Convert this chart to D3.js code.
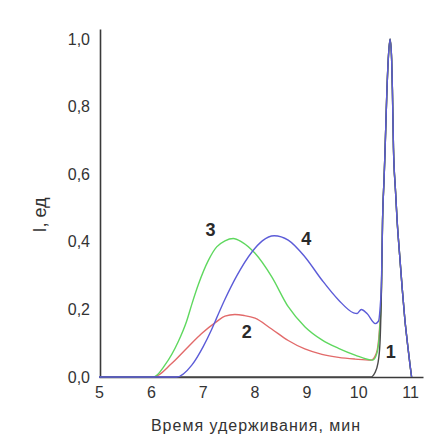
<!DOCTYPE html>
<html>
<head>
<meta charset="utf-8">
<script src="https://cdn.jsdelivr.net/npm/d3@7"></script>
<style>
  html, body { margin: 0; padding: 0; background: #fff; }
  svg { display: block; font-family: "Liberation Sans", Arial, sans-serif; }
</style>
</head>
<body>
<svg id="chart" width="439" height="439"></svg>
<script>
// Chromatograms: relative intensity vs retention time (min)
const xTicks = [5, 6, 7, 8, 9, 10, 11];
const yTicks = [0, 0.2, 0.4, 0.6, 0.8, 1.0];

// Shared main peak near 10.6 min
const peakTime  = [10.47, 10.50, 10.52, 10.55, 10.58, 10.615, 10.645, 10.66, 10.68, 10.72, 10.75, 10.80, 10.85, 10.90, 10.95, 11.00, 11.03];
const peakValue = [0.465, 0.59, 0.68, 0.83, 0.94, 1.0, 0.94, 0.85, 0.68, 0.55, 0.465, 0.36, 0.26, 0.17, 0.10, 0.035, 0];

// Curve 1
const time1  = [5, 10.24, 10.32, 10.38, 10.42, 10.45];
const value1 = [0, 0, 0.012, 0.04, 0.10, 0.27];

// Curve 2
const time2  = [5, 6.05, 6.40, 6.66, 6.98, 7.27, 7.43, 7.62, 7.80, 8.01, 8.33, 8.65, 8.97, 9.30, 9.62, 9.94, 10.25, 10.35, 10.41, 10.45];
const value2 = [0, 0, 0.04, 0.08, 0.129, 0.164, 0.18, 0.185, 0.182, 0.174, 0.142, 0.108, 0.083, 0.067, 0.058, 0.053, 0.05, 0.07, 0.14, 0.27];

// Curve 3
const time3  = [5, 6.05, 6.27, 6.53, 6.69, 6.79, 6.92, 7.11, 7.27, 7.43, 7.59, 7.75, 8.01, 8.33, 8.65, 8.97, 9.30, 9.62, 9.94, 10.28, 10.36, 10.41, 10.45];
const value3 = [0, 0, 0.035, 0.105, 0.165, 0.215, 0.275, 0.345, 0.385, 0.403, 0.41, 0.40, 0.366, 0.297, 0.208, 0.149, 0.11, 0.085, 0.065, 0.05, 0.07, 0.13, 0.27];

// Curve 4
const time4  = [5, 6.5, 6.79, 7.01, 7.17, 7.27, 7.43, 7.66, 7.95, 8.15, 8.38, 8.65, 8.97, 9.30, 9.62, 9.91, 9.98, 10.06, 10.17, 10.33, 10.39, 10.42, 10.45];
const value4 = [0, 0, 0.035, 0.09, 0.14, 0.175, 0.23, 0.30, 0.37, 0.403, 0.418, 0.405, 0.356, 0.287, 0.228, 0.19, 0.188, 0.20, 0.188, 0.158, 0.165, 0.20, 0.29];

const curveLabels = ["1", "2", "3", "4"];
const labelTime   = [10.63, 7.85, 7.15, 9.0];
const labelValue  = [0.07, 0.13, 0.43, 0.405];

const svg = d3.select("#chart");

const x = d3.scaleLinear().domain([5, 11.25]).range([99, 423]);
const y = d3.scaleLinear().domain([0, 1.03]).range([377, 29]);

const fmt = d => d.toFixed(1).replace(".", ",");

// X axis
const gx = svg.append("g")
  .attr("transform", `translate(0,${y(0)})`)
  .call(d3.axisBottom(x).tickValues(xTicks).tickSize(0).tickSizeOuter(0).tickPadding(10).tickFormat(d3.format("d")));

// Y axis
const gy = svg.append("g")
  .attr("transform", `translate(${x(5) + 1},0)`)
  .call(d3.axisLeft(y).tickValues(yTicks).tickSize(0).tickSizeOuter(0).tickPadding(10).tickFormat(fmt));

[gx, gy].forEach(g => {
  g.select(".domain").attr("stroke", "#3a3a3a").attr("stroke-width", 1.6);
  g.selectAll("text").attr("fill", "#333").attr("font-size", 16)
    .attr("font-family", "'Liberation Sans', Arial, sans-serif");
});

// Axis titles
svg.append("text")
  .attr("transform", `translate(41,215) rotate(-90)`)
  .attr("text-anchor", "middle")
  .attr("dominant-baseline", "middle")
  .attr("font-size", 18)
  .attr("fill", "#333")
  .text("I, ед");

svg.append("text")
  .attr("x", 256)
  .attr("y", 431)
  .attr("text-anchor", "middle")
  .attr("font-size", 16)
  .attr("letter-spacing", 1)
  .attr("fill", "#333")
  .text("Время удерживания, мин");

// Curves
const line = d3.line()
  .x(d => x(d[0]))
  .y(d => y(d[1]))
  .curve(d3.curveMonotoneX);

const series = [
  { t: time2, v: value2, color: "#e26a6a" },
  { t: time3, v: value3, color: "#5fd85f" },
  { t: time1, v: value1, color: "#4a4a4a" },
  { t: time4, v: value4, color: "#5c5cd8" }
];

series.forEach(s => {
  const pts = d3.zip(s.t.concat(peakTime), s.v.concat(peakValue));
  svg.append("path")
    .datum(pts)
    .attr("fill", "none")
    .attr("stroke", s.color)
    .attr("stroke-width", 1.4)
    .attr("stroke-linejoin", "round")
    .attr("d", line);
});

// Curve numbers
svg.selectAll("text.curve-label")
  .data(curveLabels)
  .join("text")
  .attr("class", "curve-label")
  .attr("x", (d, i) => x(labelTime[i]))
  .attr("y", (d, i) => y(labelValue[i]))
  .attr("text-anchor", "middle")
  .attr("dominant-baseline", "middle")
  .attr("font-size", 18)
  .attr("font-weight", "bold")
  .attr("fill", "#2a2a2a")
  .text(d => d);
</script>
</body>
</html>
